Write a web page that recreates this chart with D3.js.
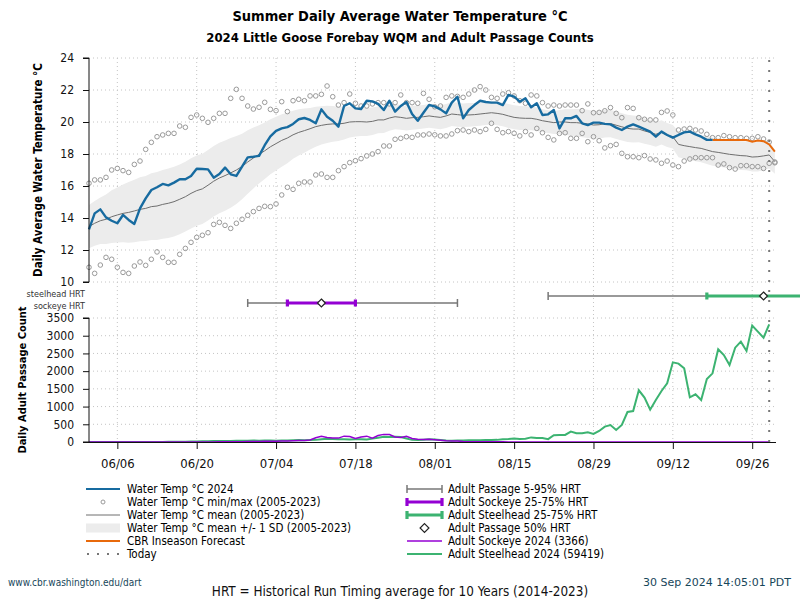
<!DOCTYPE html>
<html><head><meta charset="utf-8">
<script src="https://cdn.jsdelivr.net/npm/d3@7"></script>
<style>
body{margin:0;background:#fff}
svg{display:block;font-family:'DejaVu Sans Condensed','DejaVu Sans',sans-serif;font-stretch:condensed}
</style>
</head><body>
<svg id="c" width="800" height="600"></svg>
<script>
// ---------- DATA (day index 0 = 2024-06-01) ----------
const tickDays   = [5, 19, 33, 47, 61, 75, 89, 103, 117];
const tickLabels = ["06/06","06/20","07/04","07/18","08/01","08/15","08/29","09/12","09/26"];
const tempTicks  = [10, 12, 14, 16, 18, 20, 22, 24];
const countTicks = [0, 500, 1000, 1500, 2000, 2500, 3000, 3500];
const todayDay = 120;

// Water Temp °C 2024 (days 0..110)
const temp2024 = [13.29,14.29,14.54,14.04,13.83,13.67,14.19,13.88,13.63,14.6,15.23,15.75,15.92,16.13,16.04,16.21,16.42,16.42,16.63,17.08,
17.06,17.04,16.52,16.75,17.15,16.73,16.63,17.21,17.79,17.83,17.88,18.55,19.1,19.45,19.6,19.68,19.88,20.17,20.25,20.13,
19.92,20.79,20.33,20.08,19.71,21.0,21.17,20.85,20.81,21.33,21.29,21.13,20.75,21.33,20.65,21.0,21.25,20.5,20.08,20.58,
21.06,20.98,20.79,20.54,21.21,21.58,20.23,20.75,21.06,21.33,21.25,21.21,21.21,21.06,21.69,21.58,21.27,21.48,20.92,21.17,
20.44,20.48,20.75,19.6,20.23,20.23,20.38,19.92,19.81,19.96,19.96,19.88,19.85,19.65,19.5,19.71,19.85,19.71,19.56,19.4,
19.08,19.4,19.19,19.02,19.19,19.35,19.4,19.23,19.08,18.88,18.88];
// CBR Inseason Forecast (days 110..121)
const forecastStart = 110;
const forecast = [18.88,18.88,18.88,18.88,18.88,18.88,18.88,18.77,18.85,18.8,18.6,18.15];
// Water Temp °C max (2005-2023), days 0..121
const tempMax = [16.17,16.38,16.38,16.54,17.0,17.1,16.96,16.85,17.35,17.56,18.29,18.73,19.08,19.19,19.29,19.29,19.75,19.67,20.29,20.44,
20.23,19.98,20.23,20.54,20.54,21.48,22.04,21.48,21.0,20.81,20.92,21.23,20.79,20.71,21.27,20.65,21.33,21.42,21.33,21.63,
21.63,21.73,22.25,21.58,21.06,21.21,21.75,21.17,21.0,21.0,21.13,21.21,21.21,21.13,21.21,21.69,21.21,21.21,21.17,21.79,
21.42,20.95,21.0,21.54,21.63,21.6,21.54,21.75,22.0,22.21,22.0,21.54,21.48,21.75,21.83,21.63,21.33,21.17,21.69,21.63,
21.21,21.0,21.06,21.0,21.06,21.06,21.06,20.71,21.13,20.58,20.6,20.7,20.9,20.54,20.27,20.9,20.85,20.27,20.17,20.13,
20.13,20.6,20.69,20.44,19.5,19.56,19.6,19.5,19.44,19.23,19.02,19.02,19.15,19.08,19.02,19.02,18.98,18.98,19.08,18.94,
18.75,17.5];
// Water Temp °C min (2005-2023), days 0..121
const tempMin = [10.92,10.54,11.06,11.54,11.42,10.92,10.6,10.54,11.0,11.25,11.04,11.42,11.88,11.54,11.23,11.23,11.73,12.1,12.48,12.79,
12.92,13.08,13.6,13.73,13.54,13.35,13.67,13.92,14.17,14.4,14.6,14.73,14.71,14.88,15.44,15.92,15.79,16.17,16.25,16.25,
16.69,16.75,16.54,16.54,16.96,17.21,17.46,17.58,17.71,17.88,18.0,18.15,18.5,18.5,18.92,18.98,19.08,19.04,19.19,19.19,
19.25,19.2,19.13,19.13,19.25,19.46,19.5,19.4,19.5,19.4,19.54,19.92,19.54,19.33,19.4,19.29,19.13,19.4,19.19,19.6,
19.33,19.04,18.88,19.29,19.33,18.98,18.98,19.29,18.77,19.08,18.83,18.38,18.52,18.6,18.04,17.83,17.83,17.77,17.9,17.69,
17.63,17.42,17.56,17.31,17.21,17.56,17.69,17.77,17.77,17.77,17.77,17.31,17.38,17.15,17.06,17.27,17.27,17.21,17.21,17.1,
17.42,17.45];
// Water Temp °C mean (2005-2023), days 0..121
const tempMean = [13.46,13.67,13.83,13.92,14.08,14.19,14.29,14.35,14.44,14.54,14.6,14.71,14.75,14.85,14.92,15.02,15.17,15.33,15.54,15.71,
15.82,16.05,16.3,16.5,16.65,16.82,17.0,17.22,17.5,17.75,17.98,18.2,18.45,18.65,18.85,19.0,19.2,19.35,19.46,19.58,
19.71,19.79,19.85,19.88,19.88,19.92,20.0,20.02,20.02,20.0,20.04,20.13,20.13,20.25,20.33,20.29,20.23,20.27,20.29,20.33,
20.38,20.33,20.29,20.38,20.5,20.46,20.42,20.44,20.46,20.5,20.54,20.58,20.54,20.48,20.38,20.29,20.25,20.23,20.23,20.17,
20.08,20.02,19.96,20.0,20.0,19.96,19.96,19.92,19.88,19.81,19.83,19.9,19.9,19.8,19.7,19.6,19.56,19.56,19.44,19.35,
19.23,19.35,19.19,19.08,18.6,18.52,18.46,18.4,18.35,18.25,18.15,18.1,18.04,17.98,17.94,17.9,17.88,17.81,17.83,17.88,
17.94,17.52];
// Water Temp °C 1 SD (2005-2023), days 0..121
const tempSD = [1.35,1.4,1.45,1.55,1.65,1.72,1.8,1.9,1.95,2.0,2.03,2.08,2.12,2.15,2.17,2.18,2.18,2.18,2.19,2.19,
2.2,2.2,2.2,2.2,2.2,2.18,2.12,2.05,1.98,1.9,1.82,1.77,1.72,1.68,1.64,1.58,1.5,1.45,1.38,1.3,
1.25,1.2,1.17,1.12,1.07,1.02,0.97,0.92,0.9,0.88,0.86,0.84,0.82,0.8,0.79,0.78,0.76,0.75,0.74,0.74,
0.74,0.74,0.75,0.75,0.75,0.75,0.74,0.74,0.73,0.73,0.73,0.73,0.74,0.74,0.75,0.75,0.75,0.75,0.74,0.73,
0.72,0.71,0.71,0.75,0.8,0.83,0.86,0.88,0.88,0.88,0.88,0.87,0.86,0.86,0.85,0.85,0.84,0.82,0.8,0.78,
0.77,0.76,0.75,0.74,0.8,0.82,0.84,0.85,0.86,0.87,0.88,0.88,0.88,0.88,0.89,0.9,0.9,0.91,0.92,0.9,
0.85,0.75];
// Adult Sockeye 2024 daily counts, days 0..120
const sockeye = [0,0,0,0,0,0,0,0,0,0,0,0,0,0,0,0,0,0,0,0,
1,2,3,4,5,6,8,10,12,15,15,18,20,22,25,30,35,40,45,55,
120,160,130,115,110,165,155,100,140,165,110,185,215,210,140,130,160,100,80,70,
80,65,50,35,30,25,15,10,10,8,5,5,4,4,3,3,3,2,2,2,
2,2,1,1,1,1,1,0,0,0,0,0,0,0,0,0,0,0,0,0,
0,0,0,0,0,0,0,0,0,0,0,0,0,0,0,0,0,0,0,0,0];
// Adult Steelhead 2024 daily counts, days 0..120
const steelhead = [0,0,0,0,0,0,0,0,0,0,2,3,3,2,4,5,8,10,12,15,
20,22,25,28,30,30,32,35,38,40,38,40,42,38,40,45,50,55,52,55,
60,80,90,85,80,75,70,75,80,70,95,120,150,140,150,140,100,60,55,65,
75,70,55,40,35,40,45,50,50,50,55,55,60,80,85,100,85,90,130,110,
110,80,190,195,198,292,245,245,273,226,311,433,480,339,480,847,875,1459,1252,913,
1186,1440,1656,2249,2212,2079,1261,1346,1186,1778,1938,2616,2456,2174,2663,2832,2569,3284,3115,2945,3322];
// Historical Run Timing (day index): 5%,25%,50%,75%,95%
const sockeyeHRT   = [28, 35, 41, 47, 65];
const steelheadHRT = [81, 109, 119, 140, 160];

const legendLeft  = ["Water Temp °C 2024","Water Temp °C min/max (2005-2023)","Water Temp °C mean (2005-2023)",
  "Water Temp °C mean +/- 1 SD (2005-2023)","CBR Inseason Forecast","Today"];
const legendRight = ["Adult Passage 5-95% HRT","Adult Sockeye 25-75% HRT","Adult Steelhead 25-75% HRT",
  "Adult Passage 50% HRT","Adult Sockeye 2024 (3366)","Adult Steelhead 2024 (59419)"];

// ---------- STYLE ----------
const C = {blue:"#176ba0", orange:"#e8690b", mean:"#6e6e6e", circ:"#9a9a9a", band:"#ececec",
  purple:"#9400d3", green:"#3cb371", hrt:"#777", grid:"#c4c4c4", today:"#777"};

const svg = d3.select("#c");
const X0 = 89, X1 = 776;
const x = d3.scaleLinear().domain([0, 121.2]).range([X0, X1]);
const yT = d3.scaleLinear().domain([10, 24]).range([282, 58]);
const yC = d3.scaleLinear().domain([0, 3500]).range([442, 318]);
const ySock = 303, ySteel = 296;

// titles
svg.append("text").attr("x",400).attr("y",21).attr("text-anchor","middle")
  .attr("font-size",14.5).attr("font-weight","bold").text("Summer Daily Average Water Temperature °C");
svg.append("text").attr("x",400).attr("y",42).attr("text-anchor","middle")
  .attr("font-size",13).attr("font-weight","bold").text("2024 Little Goose Forebay WQM and Adult Passage Counts");

// grids
const g = svg.append("g");
g.selectAll(".vg").data(tickDays).join("line")
  .attr("x1",d=>x(d)).attr("x2",d=>x(d)).attr("y1",58).attr("y2",442)
  .attr("stroke",C.grid).attr("stroke-dasharray","1,3");
g.selectAll(".hgT").data(tempTicks).join("line")
  .attr("x1",X0).attr("x2",X1).attr("y1",d=>yT(d)).attr("y2",d=>yT(d))
  .attr("stroke",C.grid).attr("stroke-dasharray","1,3");
g.selectAll(".hgC").data(countTicks.slice(1)).join("line")
  .attr("x1",X0).attr("x2",X1).attr("y1",d=>yC(d)).attr("y2",d=>yC(d))
  .attr("stroke",C.grid).attr("stroke-dasharray","1,3");

// SD band
const band = d3.area().x((d,i)=>x(i)).y0((d,i)=>yT(tempMean[i]-tempSD[i])).y1((d,i)=>yT(tempMean[i]+tempSD[i]));
svg.append("path").datum(tempMean).attr("d",band).attr("fill",C.band);
// mean
svg.append("path").datum(tempMean).attr("d",d3.line().x((d,i)=>x(i)).y(d=>yT(d)))
  .attr("fill","none").attr("stroke",C.mean).attr("stroke-width",1);
// min/max circles
[tempMax,tempMin].forEach(arr=>{
  svg.append("g").selectAll("circle").data(arr).join("circle")
    .attr("cx",(d,i)=>x(i)).attr("cy",d=>yT(d)).attr("r",2.3)
    .attr("fill","none").attr("stroke",C.circ).attr("stroke-width",1);
});
// forecast
svg.append("path").datum(forecast).attr("d",d3.line().x((d,i)=>x(forecastStart+i)).y(d=>yT(d)))
  .attr("fill","none").attr("stroke",C.orange).attr("stroke-width",2);
// 2024
svg.append("path").datum(temp2024).attr("d",d3.line().x((d,i)=>x(i)).y(d=>yT(d)))
  .attr("fill","none").attr("stroke",C.blue).attr("stroke-width",2.4).attr("stroke-linejoin","round");

// counts
const lineC = d3.line().x((d,i)=>x(i)).y(d=>yC(d));
svg.append("path").datum(steelhead).attr("d",lineC).attr("fill","none").attr("stroke",C.green).attr("stroke-width",2);
svg.append("path").datum(sockeye).attr("d",lineC).attr("fill","none").attr("stroke",C.purple).attr("stroke-width",1.5);

// HRT
function hrt(vals, y, color){
  const gg = svg.append("g");
  const seg = (a,b,col,w,cap)=>{
    gg.append("line").attr("x1",x(a)).attr("x2",x(b)).attr("y1",y).attr("y2",y).attr("stroke",col).attr("stroke-width",w);
    [a,b].forEach(v=>gg.append("line").attr("x1",x(v)).attr("x2",x(v)).attr("y1",y-cap).attr("y2",y+cap)
      .attr("stroke",col).attr("stroke-width",w));
  };
  seg(vals[0],vals[4],C.hrt,1.5,4);
  seg(vals[1],vals[3],color,3.2,3.5);
  gg.append("path").attr("d",d3.symbol(d3.symbolDiamond2? d3.symbolDiamond2 : d3.symbolDiamond, 40)())
    .attr("transform",`translate(${x(vals[2])},${y})`).attr("fill","#fff").attr("stroke","#222").attr("stroke-width",1.2);
}
hrt(sockeyeHRT, ySock, C.purple);
hrt(steelheadHRT, ySteel, C.green);
svg.append("text").attr("x",85).attr("y",297).attr("text-anchor","end").attr("font-size",9).attr("fill","#333").text("steelhead HRT");
svg.append("text").attr("x",85).attr("y",308.5).attr("text-anchor","end").attr("font-size",9).attr("fill","#333").text("sockeye HRT");

// today
svg.append("line").attr("x1",x(todayDay)).attr("x2",x(todayDay)).attr("y1",60).attr("y2",442)
  .attr("stroke",C.today).attr("stroke-width",2).attr("stroke-dasharray","2,8");

// axes
const axT = svg.append("g").attr("transform",`translate(${X0},0)`)
  .call(d3.axisLeft(yT).tickValues(tempTicks).tickSize(6).tickPadding(9));
const axC = svg.append("g").attr("transform",`translate(${X0},0)`)
  .call(d3.axisLeft(yC).tickValues(countTicks).tickFormat(d3.format("d")).tickSize(6).tickPadding(9));
const axX = svg.append("g").attr("transform",`translate(0,442)`)
  .call(d3.axisBottom(x).tickValues(tickDays).tickFormat((d,i)=>tickLabels[i]).tickSize(7).tickPadding(10));
[axT,axC,axX].forEach(a=>{
  a.selectAll("text").attr("fill","#111");
  a.selectAll("path,line").attr("stroke","#111");
  a.attr("font-family",null);
});
axT.attr("font-size",12); axC.attr("font-size",12); axX.attr("font-size",13);
axX.select(".domain").attr("d",`M${X0},0.5H${X1}`);
axT.select(".domain").attr("d",`M-6,${yT(24)}H0V${yT(10)}H-6`);
axC.select(".domain").attr("d",`M-6,${yC(3500)}H0V${yC(0)}H-6`);

// axis titles
svg.append("text").attr("transform","translate(42,170) rotate(-90)").attr("text-anchor","middle")
  .attr("font-size",11.5).attr("font-weight","bold").text("Daily Average Water Temperature °C");
svg.append("text").attr("transform","translate(26,380) rotate(-90)").attr("text-anchor","middle")
  .attr("font-size",11).attr("font-weight","bold").text("Daily Adult Passage Count");

// legend
const rowY = [489,502,515,528,541,554];
const lg = svg.append("g").attr("font-size",11.5);
legendLeft.forEach((t,i)=>lg.append("text").attr("x",127).attr("y",rowY[i]+4).text(t));
legendRight.forEach((t,i)=>lg.append("text").attr("x",448).attr("y",rowY[i]+4).text(t));
const L0 = 86, L1 = 120;
lg.append("line").attr("x1",L0).attr("x2",L1).attr("y1",rowY[0]).attr("y2",rowY[0]).attr("stroke",C.blue).attr("stroke-width",2);
lg.append("circle").attr("cx",103).attr("cy",rowY[1]).attr("r",2).attr("fill","none").attr("stroke",C.circ);
lg.append("line").attr("x1",L0).attr("x2",L1).attr("y1",rowY[2]).attr("y2",rowY[2]).attr("stroke",C.mean).attr("stroke-width",1);
lg.append("rect").attr("x",L0).attr("y",rowY[3]-4.5).attr("width",L1-L0).attr("height",9).attr("fill",C.band);
lg.append("line").attr("x1",L0).attr("x2",L1).attr("y1",rowY[4]).attr("y2",rowY[4]).attr("stroke",C.orange).attr("stroke-width",2);
lg.append("line").attr("x1",L0+1).attr("x2",L1).attr("y1",rowY[5]).attr("y2",rowY[5]).attr("stroke",C.today).attr("stroke-width",2).attr("stroke-dasharray","2,8");
const R0 = 407, R1 = 442;
[[C.hrt,1.5,4],[C.purple,3.2,4],[C.green,3.2,4]].forEach((s,i)=>{
  const y=rowY[i];
  lg.append("line").attr("x1",R0).attr("x2",R1).attr("y1",y).attr("y2",y).attr("stroke",s[0]).attr("stroke-width",s[1]);
  [R0,R1].forEach(v=>lg.append("line").attr("x1",v).attr("x2",v).attr("y1",y-s[2]).attr("y2",y+s[2]).attr("stroke",s[0]).attr("stroke-width",s[1]));
});
lg.append("path").attr("d",d3.symbol(d3.symbolDiamond2? d3.symbolDiamond2 : d3.symbolDiamond, 50)())
  .attr("transform",`translate(${(R0+R1)/2},${rowY[3]})`).attr("fill","#fff").attr("stroke","#222").attr("stroke-width",1.2);
lg.append("line").attr("x1",R0).attr("x2",R1).attr("y1",rowY[4]).attr("y2",rowY[4]).attr("stroke",C.purple).attr("stroke-width",1.5);
lg.append("line").attr("x1",R0).attr("x2",R1).attr("y1",rowY[5]).attr("y2",rowY[5]).attr("stroke",C.green).attr("stroke-width",2);

// footer
svg.append("text").attr("x",8).attr("y",586).attr("font-size",10).attr("fill","#17465a").text("www.cbr.washington.edu/dart");
svg.append("text").attr("x",791).attr("y",586).attr("text-anchor","end").attr("font-size",11)
  .style("font-family","'DejaVu Sans',sans-serif").style("font-stretch","normal").attr("fill","#17465a").text("30 Sep 2024 14:05:01 PDT");
svg.append("text").attr("x",400).attr("y",596).attr("text-anchor","middle").attr("font-size",13.4).attr("fill","#111")
  .text("HRT = Historical Run Timing average for 10 Years (2014-2023)");
</script>
</body></html>
